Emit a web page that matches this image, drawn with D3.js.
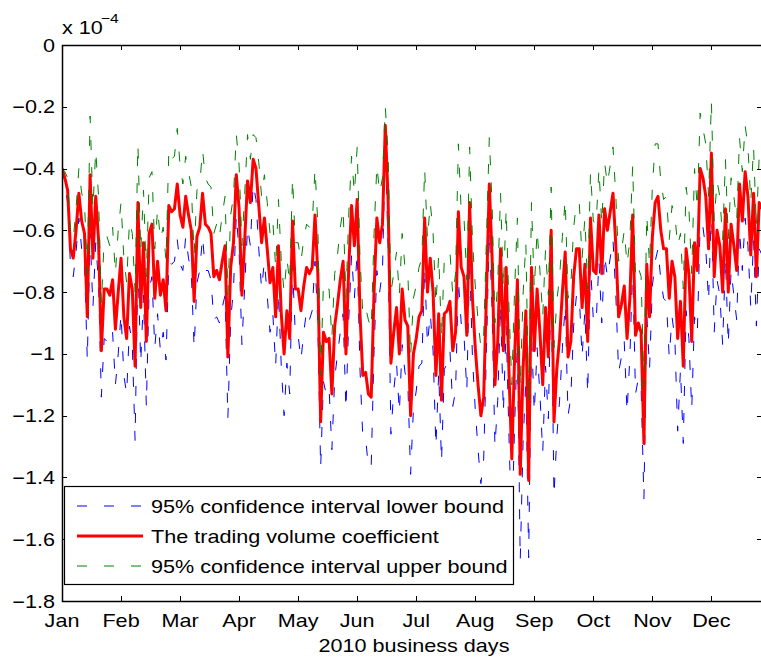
<!DOCTYPE html>
<html><head><meta charset="utf-8">
<script src="https://cdn.jsdelivr.net/npm/d3@7"></script>
<style>
html,body{margin:0;padding:0;background:#fff;}
svg{display:block;}
text{font-family:"Liberation Sans",Arial,Helvetica,sans-serif;fill:#000;}
</style></head>
<body>
<svg id="chart" width="761" height="662"></svg>
<script>
// ---- data (values in units of 1e-4) ----
const coefficient = [
-0.40,-0.43,-0.47,-0.66,-0.69,-0.60,-0.48,-0.57,-0.61,-0.88,
-0.42,-0.69,-0.49,-0.63,-0.99,-0.79,-0.79,-0.81,-0.76,-0.92,
-0.80,-0.69,-0.88,-0.95,-0.74,-0.79,-1.04,-0.51,-0.85,-0.64,
-0.96,-0.61,-0.58,-0.82,-0.70,-0.81,-0.76,-0.86,-0.52,-0.54,
-0.53,-0.45,-0.55,-0.59,-0.49,-0.55,-0.60,-0.83,-0.62,-0.59,
-0.48,-0.58,-0.59,-0.61,-0.75,-0.73,-0.76,-0.70,-0.65,-1.01,
-0.72,-0.64,-0.42,-0.53,-0.81,-0.63,-0.44,-0.51,-0.37,-0.40,
-0.52,-0.64,-0.56,-0.66,-0.77,-0.72,-0.88,-0.65,-0.87,-1.00,
-0.86,-0.95,-0.57,-0.79,-0.79,-0.86,-0.78,-0.72,-0.74,-0.72,
-0.55,-0.74,-1.22,-0.93,-0.96,-0.95,-1.13,-0.91,-0.84,-0.76,
-0.70,-1.00,-0.72,-0.52,-0.65,-0.50,-0.87,-1.07,-1.06,-1.13,
-1.14,-0.80,-0.56,-0.64,-0.58,-0.26,-0.50,-1.03,-0.93,-0.85,
-1.00,-0.79,-0.89,-0.91,-1.20,-1.00,-0.95,-0.88,-0.86,-0.56,
-0.80,-0.69,-0.80,-1.07,-0.87,-1.15,-0.87,-0.86,-0.83,-0.99,
-0.93,-0.54,-0.72,-0.75,-0.94,-0.51,-0.82,-0.98,-1.10,-1.20,
-1.14,-0.80,-0.45,-0.69,-1.10,-0.96,-0.66,-0.99,-0.72,-1.06,
-1.34,-1.01,-0.76,-1.39,-1.05,-0.86,-1.41,-0.72,-0.99,-0.79,
-0.93,-1.10,-0.85,-1.01,-0.60,-1.22,-1.05,-0.95,-0.80,-0.67,
-1.01,-0.96,-0.75,-0.66,-0.66,-0.85,-0.71,-0.96,-0.56,-0.73,
-0.74,-0.55,-0.74,-0.53,-0.60,-0.54,-0.48,-0.65,-0.88,-0.84,
-0.78,-0.95,-0.82,-0.55,-0.94,-0.90,-0.93,-1.29,-0.71,-0.88,
-0.62,-0.51,-0.49,-0.60,-0.66,-0.66,-0.82,-0.70,-0.75,-0.95,
-0.83,-1.04,-0.66,-0.74,-0.96,-0.64,-0.73,-0.40,-0.43,-0.49,
-0.66,-0.35,-0.75,-0.60,-0.65,-0.80,-0.53,-0.80,-0.58,-0.65,
-0.73,-0.45,-0.57,-0.41,-0.49,-0.68,-0.48,-0.75,-0.51,-0.53
];
const lowerBound = [
-0.40,-0.45,-0.51,-0.71,-0.75,-0.67,-0.56,-0.66,-0.71,-1.02,
-0.61,-0.85,-0.64,-0.77,-1.14,-0.95,-0.96,-0.97,-0.93,-1.10,
-1.00,-0.87,-1.07,-1.13,-0.91,-0.97,-1.28,-0.70,-1.03,-0.81,
-1.17,-0.79,-0.75,-0.98,-0.87,-0.99,-0.93,-1.02,-0.70,-0.71,
-0.70,-0.63,-0.71,-0.73,-0.62,-0.69,-0.74,-0.98,-0.77,-0.73,
-0.62,-0.73,-0.73,-0.76,-0.89,-0.88,-0.90,-0.85,-0.81,-1.21,
-0.89,-0.79,-0.55,-0.67,-0.97,-0.78,-0.59,-0.65,-0.45,-0.50,
-0.66,-0.79,-0.70,-0.81,-0.93,-0.87,-1.04,-0.80,-1.04,-1.20,
-1.03,-1.13,-0.71,-0.94,-0.94,-1.02,-0.93,-0.86,-0.89,-0.86,
-0.70,-0.90,-1.37,-1.09,-1.13,-1.11,-1.31,-1.08,-1.00,-0.93,
-0.87,-1.18,-0.89,-0.68,-0.82,-0.67,-1.05,-1.27,-1.27,-1.37,
-1.36,-0.99,-0.73,-0.80,-0.73,-0.32,-0.65,-1.26,-1.12,-1.03,
-1.19,-0.97,-1.06,-1.09,-1.39,-1.18,-1.12,-1.04,-1.03,-0.72,
-0.97,-0.87,-0.99,-1.30,-1.06,-1.35,-1.05,-1.03,-0.99,-1.17,
-1.12,-0.76,-0.90,-0.94,-1.12,-0.69,-1.01,-1.18,-1.31,-1.42,
-1.34,-0.98,-0.60,-0.86,-1.30,-1.15,-0.84,-1.19,-0.91,-1.27,
-1.58,-1.23,-0.96,-1.67,-1.29,-1.08,-1.66,-0.93,-1.19,-0.98,
-1.13,-1.32,-1.04,-1.21,-0.74,-1.46,-1.27,-1.15,-0.98,-0.84,
-1.20,-1.14,-0.91,-0.81,-0.81,-1.01,-0.86,-1.13,-0.71,-0.89,
-0.90,-0.70,-0.90,-0.68,-0.75,-0.69,-0.63,-0.81,-1.06,-1.01,
-0.96,-1.19,-1.01,-0.71,-1.13,-1.08,-1.11,-1.47,-0.87,-1.05,
-0.78,-0.70,-0.66,-0.76,-0.82,-0.83,-1.01,-0.88,-0.95,-1.25,
-1.05,-1.29,-0.86,-0.95,-1.18,-0.88,-0.93,-0.58,-0.59,-0.66,
-0.83,-0.52,-0.93,-0.76,-0.81,-0.97,-0.69,-0.97,-0.73,-0.81,
-0.89,-0.60,-0.73,-0.56,-0.65,-0.85,-0.63,-0.91,-0.66,-0.68
];
const upperBound = [
-0.40,-0.41,-0.43,-0.61,-0.63,-0.53,-0.40,-0.48,-0.51,-0.74,
-0.23,-0.53,-0.34,-0.49,-0.84,-0.63,-0.62,-0.65,-0.59,-0.74,
-0.60,-0.51,-0.69,-0.77,-0.57,-0.61,-0.80,-0.32,-0.67,-0.47,
-0.75,-0.43,-0.41,-0.66,-0.53,-0.63,-0.59,-0.70,-0.34,-0.37,
-0.36,-0.27,-0.39,-0.45,-0.36,-0.41,-0.46,-0.68,-0.47,-0.45,
-0.34,-0.43,-0.45,-0.46,-0.61,-0.58,-0.62,-0.55,-0.49,-0.81,
-0.55,-0.49,-0.29,-0.39,-0.65,-0.48,-0.29,-0.37,-0.29,-0.30,
-0.38,-0.49,-0.42,-0.51,-0.61,-0.57,-0.72,-0.50,-0.70,-0.80,
-0.69,-0.77,-0.43,-0.64,-0.64,-0.70,-0.63,-0.58,-0.59,-0.58,
-0.40,-0.58,-1.07,-0.77,-0.79,-0.79,-0.95,-0.74,-0.68,-0.59,
-0.53,-0.82,-0.55,-0.36,-0.48,-0.33,-0.69,-0.87,-0.85,-0.89,
-0.92,-0.61,-0.39,-0.48,-0.43,-0.20,-0.35,-0.80,-0.74,-0.67,
-0.81,-0.61,-0.72,-0.73,-1.01,-0.82,-0.78,-0.72,-0.69,-0.40,
-0.63,-0.51,-0.61,-0.84,-0.68,-0.95,-0.69,-0.69,-0.67,-0.81,
-0.74,-0.32,-0.54,-0.56,-0.76,-0.33,-0.63,-0.78,-0.89,-0.98,
-0.94,-0.62,-0.30,-0.52,-0.90,-0.77,-0.48,-0.79,-0.53,-0.85,
-1.10,-0.79,-0.56,-1.11,-0.81,-0.64,-1.16,-0.51,-0.79,-0.60,
-0.73,-0.88,-0.66,-0.81,-0.46,-0.98,-0.83,-0.75,-0.62,-0.50,
-0.82,-0.78,-0.59,-0.51,-0.51,-0.69,-0.56,-0.79,-0.41,-0.57,
-0.58,-0.40,-0.58,-0.38,-0.45,-0.39,-0.33,-0.49,-0.70,-0.67,
-0.60,-0.71,-0.63,-0.39,-0.75,-0.72,-0.75,-1.11,-0.55,-0.71,
-0.46,-0.32,-0.32,-0.44,-0.50,-0.49,-0.63,-0.52,-0.55,-0.65,
-0.61,-0.79,-0.46,-0.53,-0.74,-0.40,-0.53,-0.22,-0.27,-0.32,
-0.49,-0.18,-0.57,-0.44,-0.49,-0.63,-0.37,-0.63,-0.43,-0.49,
-0.57,-0.30,-0.41,-0.26,-0.33,-0.51,-0.33,-0.59,-0.36,-0.38
];
const monthLabels = ["Jan","Feb","Mar","Apr","May","Jun","Jul","Aug","Sep","Oct","Nov","Dec"];
const monthTickDays = [0,21,42,63,84,105,126,147,168,189,210,231];
const yTickValues = [0,-0.2,-0.4,-0.6,-0.8,-1,-1.2,-1.4,-1.6,-1.8];
const yTickLabels = ["0","\u22120.2","\u22120.4","\u22120.6","\u22120.8","\u22121","\u22121.2","\u22121.4","\u22121.6","\u22121.8"];
const legendLabels = ["95% confidence interval lower bound","The trading volume coefficient","95% confidence interval upper bound"];

// ---- layout ----
const svg = d3.select("#chart");
const L = 62, T = 45, R = 762, B = 601;
const SX = 1.2, FS = 18;
const x = d3.scaleLinear().domain([0, 249]).range([L, R]);
const y = d3.scaleLinear().domain([-1.8, 0]).range([B, T]);

function txt(g, s, px, py, anchor, size) {
  return g.append("text")
    .attr("transform", `translate(${px},${py}) scale(${SX},1)`)
    .attr("text-anchor", anchor || "start")
    .style("font-size", (size || FS) + "px")
    .text(s);
}

svg.append("defs").append("clipPath").attr("id", "clip")
  .append("rect").attr("x", L).attr("y", T).attr("width", R - L).attr("height", B - T);

const plot = svg.append("g").attr("clip-path", "url(#clip)");
const line = d3.line().x((d, i) => x(i)).y(d => y(d));

plot.append("path").datum(lowerBound).attr("d", line)
  .attr("fill", "none").attr("stroke", "#0000ff").attr("stroke-width", 1)
  .attr("stroke-dasharray", "10,17");
plot.append("path").datum(coefficient).attr("d", line)
  .attr("fill", "none").attr("stroke", "#ff0000").attr("stroke-width", 3)
  .attr("stroke-linejoin", "round");
plot.append("path").datum(upperBound).attr("d", line)
  .attr("fill", "none").attr("stroke", "#008000").attr("stroke-width", 1)
  .attr("stroke-dasharray", "10,17");

// axes box with inward ticks
const ax = svg.append("g");
const tl = 5;
ax.append("rect").attr("x", L + 0.5).attr("y", T + 0.5).attr("width", R - L).attr("height", B - T)
  .attr("fill", "none").attr("stroke", "#000").attr("stroke-width", 1.5);
monthTickDays.forEach((d, i) => {
  const px = Math.round(x(d)) + 0.5;
  ax.append("line").attr("x1", px).attr("x2", px).attr("y1", B).attr("y2", B - tl).attr("stroke", "#000");
  ax.append("line").attr("x1", px).attr("x2", px).attr("y1", T).attr("y2", T + tl).attr("stroke", "#000");
  txt(ax, monthLabels[i], x(d), 627, "middle");
});
yTickValues.forEach((v, i) => {
  const py = Math.round(y(v)) + 0.5;
  ax.append("line").attr("x1", L).attr("x2", L + tl).attr("y1", py).attr("y2", py).attr("stroke", "#000");
  ax.append("line").attr("x1", R).attr("x2", R - tl).attr("y1", py).attr("y2", py).attr("stroke", "#000");
  txt(ax, yTickLabels[i], 55, y(v) + 6.5, "end");
});
// exponent label
txt(ax, "x 10", 62, 34, "start");
txt(ax, "\u22124", 101, 23, "start", 13);
// x label
txt(ax, "2010 business days", 414, 652, "middle");

// legend
const lg = svg.append("g");
lg.append("rect").attr("x", 64.5).attr("y", 486.5).attr("width", 449).attr("height", 98)
  .attr("fill", "#fff").attr("stroke", "#000").attr("stroke-width", 1.2);
const legStyles = [
  {c: "#0000ff", w: 1, dash: "10,17"},
  {c: "#ff0000", w: 3, dash: null},
  {c: "#008000", w: 1, dash: "10,17"}
];
const legRowY = [506, 536, 566];
legStyles.forEach((s, i) => {
  const l = lg.append("line").attr("x1", 77).attr("x2", 143)
    .attr("y1", legRowY[i]).attr("y2", legRowY[i])
    .attr("stroke", s.c).attr("stroke-width", s.w);
  if (s.dash) l.attr("stroke-dasharray", s.dash);
  txt(lg, legendLabels[i], 151, legRowY[i] + 6.5, "start");
});
</script>
</body></html>
